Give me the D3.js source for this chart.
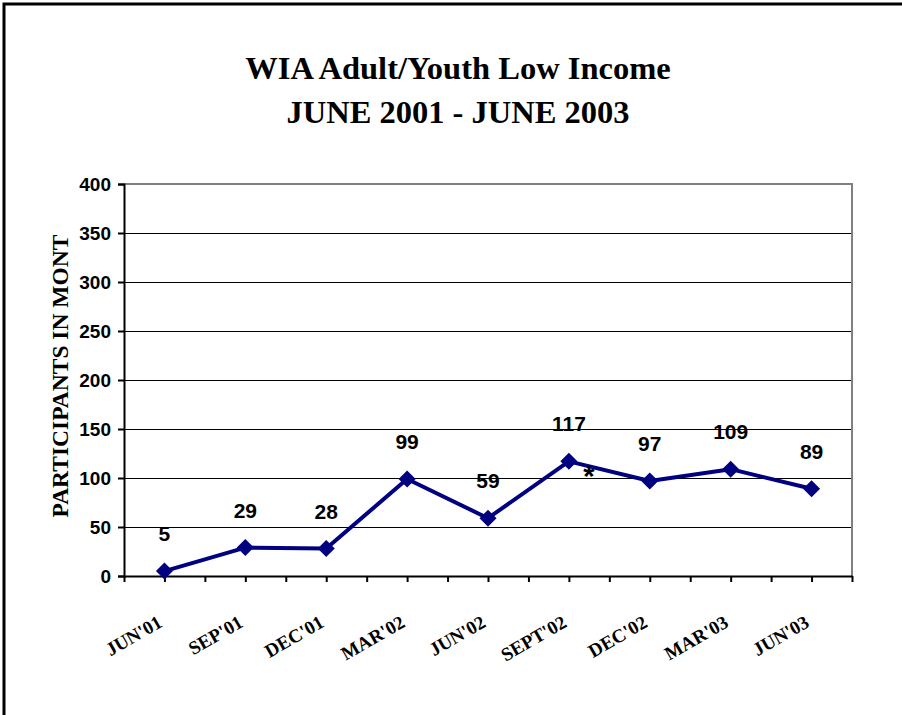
<!DOCTYPE html>
<html>
<head>
<meta charset="utf-8">
<script src="https://cdn.jsdelivr.net/npm/d3@7"></script>
<style>
body{margin:0;background:#fff;}
svg{display:block;}
.title{font-family:"Liberation Serif","Times New Roman",serif;font-weight:bold;font-size:32.5px;}
.ylabel{font-family:"Liberation Serif","Times New Roman",serif;font-weight:bold;font-size:23.5px;}
.xcat{font-family:"Liberation Serif","Times New Roman",serif;font-weight:bold;font-size:19px;}
.ytick{font-family:"Liberation Sans",Arial,sans-serif;font-weight:bold;font-size:19px;}
.dlabel{font-family:"Liberation Sans",Arial,sans-serif;font-weight:bold;font-size:21px;}
.note{font-family:"Liberation Sans",Arial,sans-serif;font-weight:bold;font-size:29px;}
</style>
</head>
<body>
<svg id="chart"></svg>
<script>
var categories = ["JUN'01","SEP'01","DEC'01","MAR'02","JUN'02","SEPT'02","DEC'02","MAR'03","JUN'03"];
var participants = [5,29,28,99,59,117,97,109,89];
var yTicks = [0,50,100,150,200,250,300,350,400];
var titleLines = ["WIA Adult/Youth Low Income","JUNE 2001 - JUNE 2003"];
var yTitle = "PARTICIPANTS IN MONT";
var notes = [{cat:"SEPT'02", text:"*"}];

var screen = {width:902, height:715};
var margins = {top:184, left:124, right:50, bottom:139};
var graph = {
    width: screen.width - margins.left - margins.right,
    height: screen.height - margins.top - margins.bottom
};

var svg = d3.select("#chart")
    .attr("width", screen.width)
    .attr("height", screen.height);

// outer frame (runs off the right and bottom edges)
svg.append("path")
    .attr("d", "M4," + (screen.height + 5) + "V4H" + (screen.width + 5))
    .attr("fill", "none")
    .attr("stroke", "#000")
    .attr("stroke-width", 3);

// titles
svg.selectAll(".title")
    .data(titleLines)
    .enter()
    .append("text")
    .classed("title", true)
    .attr("text-anchor", "middle")
    .attr("x", 458)
    .attr("y", function(d, i){ return 79 + i * 44; })
    .text(function(d){ return d; });

var xScale = d3.scaleBand()
    .domain(categories)
    .range([0, graph.width]);
var halfScale = d3.scaleLinear()
    .domain([0, categories.length * 2])
    .range([0, graph.width]);
var yScale = d3.scaleLinear()
    .domain([0, 400])
    .range([graph.height, 0]);

var g = svg.append("g")
    .attr("transform", "translate(" + margins.left + "," + margins.top + ")");

// gridlines
g.append("g")
    .selectAll("line")
    .data(yTicks.filter(function(t){ return t > 0 && t < 400; }))
    .enter()
    .append("line")
    .attr("x1", 0)
    .attr("x2", graph.width)
    .attr("y1", function(d){ return Math.round(yScale(d)) + 0.5; })
    .attr("y2", function(d){ return Math.round(yScale(d)) + 0.5; })
    .attr("stroke", "#000")
    .attr("stroke-width", 1)
    .attr("shape-rendering", "crispEdges");

// plot border top/right (grey)
g.append("path")
    .attr("d", "M0," + yScale(400) + "H" + graph.width + "V" + graph.height)
    .attr("fill", "none")
    .attr("stroke", "#808080")
    .attr("stroke-width", 2);

// y axis
var yAxis = d3.axisLeft(yScale)
    .tickValues(yTicks)
    .tickSize(6)
    .tickPadding(7);
var ya = g.append("g").call(yAxis);
ya.attr("font-family", null).attr("font-size", null);
ya.select(".domain").attr("stroke", "#000").attr("stroke-width", 2);
ya.selectAll(".tick line").attr("stroke", "#000").attr("stroke-width", 2);
ya.selectAll(".tick text").attr("class", "ytick").attr("fill", "#000").attr("dy", "0.36em");

// x axis (ticks every half category)
var xAxis = d3.axisBottom(halfScale)
    .tickValues(d3.range(categories.length * 2 + 1))
    .tickSize(6)
    .tickSizeOuter(0)
    .tickFormat("");
var xa = g.append("g")
    .attr("transform", "translate(0," + graph.height + ")")
    .call(xAxis);
xa.select(".domain").attr("stroke", "#000").attr("stroke-width", 2);
xa.selectAll(".tick line").attr("stroke", "#000").attr("stroke-width", 2);

// category labels
g.append("g")
    .selectAll("text")
    .data(categories)
    .enter()
    .append("text")
    .classed("xcat", true)
    .attr("text-anchor", "end")
    .attr("transform", function(d){
        var x = xScale(d) + xScale.bandwidth() / 2 - 1;
        var y = graph.height + 50;
        return "translate(" + x + "," + y + ") rotate(-30)";
    })
    .text(function(d){ return d; });

// y title
svg.append("text")
    .classed("ylabel", true)
    .attr("text-anchor", "middle")
    .attr("transform", "translate(68,376) rotate(-90)")
    .text(yTitle);

var pts = categories.map(function(c, i){ return {cat:c, value:participants[i]}; });
var cx = function(d){ return xScale(d.cat) + xScale.bandwidth() / 2; };

var line = d3.line()
    .x(cx)
    .y(function(d){ return yScale(d.value); });

g.append("path")
    .datum(pts)
    .attr("d", line)
    .attr("fill", "none")
    .attr("stroke", "#000080")
    .attr("stroke-width", 4)
    .attr("stroke-linejoin", "round");

var diamond = d3.symbol().type(d3.symbolDiamond2).size(185);
g.append("g")
    .selectAll("path")
    .data(pts)
    .enter()
    .append("path")
    .attr("d", diamond)
    .attr("fill", "#000080")
    .attr("transform", function(d){ return "translate(" + cx(d) + "," + yScale(d.value) + ")"; });

g.append("g")
    .selectAll("text")
    .data(pts)
    .enter()
    .append("text")
    .classed("dlabel", true)
    .attr("text-anchor", "middle")
    .attr("x", cx)
    .attr("y", function(d){ return yScale(d.value) - 30; })
    .text(function(d){ return d.value; });

// note marker
g.append("g")
    .selectAll("text")
    .data(notes)
    .enter()
    .append("text")
    .classed("note", true)
    .attr("text-anchor", "middle")
    .attr("x", function(d){ return xScale(d.cat) + xScale.bandwidth() / 2 + 20; })
    .attr("y", function(d){
        var v = participants[categories.indexOf(d.cat)];
        return yScale(v) + 25;
    })
    .text(function(d){ return d.text; });
</script>
</body>
</html>
